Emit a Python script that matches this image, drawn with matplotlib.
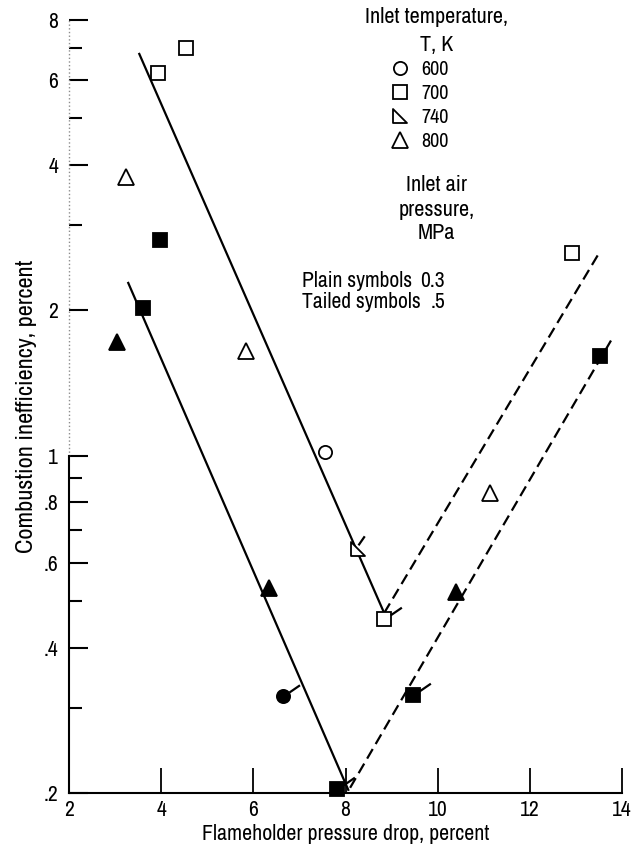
import numpy as np
import matplotlib
matplotlib.use("Agg")
import matplotlib.pyplot as plt
from matplotlib.path import Path
from matplotlib.lines import Line2D

plt.rcParams['font.family'] = ['Archivo Narrow', 'Liberation Sans Narrow', 'DejaVu Sans']

# flameholder pressure drop (percent) vs combustion inefficiency (percent)
# open symbols
sq_open_x = [3.93, 4.54, 12.93]
sq_open_y = [6.2, 7.0, 2.63]
sq_open_tail_x = [8.84]
sq_open_tail_y = [0.458]
tri_open_x = [3.23, 5.84, 11.14]
tri_open_y = [3.78, 1.65, 0.836]
circ_open_x = [7.56]
circ_open_y = [1.016]
rt_open_tail_x = [8.27]
rt_open_tail_y = [0.641]

# solid symbols
sq_fill_x = [3.97, 3.59, 13.53]
sq_fill_y = [2.80, 2.02, 1.61]
sq_fill_tail_x = [9.47, 7.82]
sq_fill_tail_y = [0.319, 0.204]
tri_fill_x = [3.04, 6.34, 10.39]
tri_fill_y = [1.72, 0.532, 0.523]
circ_fill_tail_x = [6.64]
circ_fill_tail_y = [0.318]

# faired curves
upper_solid_x = [3.52, 8.84]
upper_solid_y = [6.80, 0.472]
upper_dash_x = [8.84, 13.53]
upper_dash_y = [0.472, 2.65]
lower_solid_x = [3.28, 8.06]
lower_solid_y = [2.28, 0.203]
lower_dash_x = [8.10, 13.81]
lower_dash_y = [0.205, 1.76]

legend_temps = ['600', '700', '740', '800']

ytick_vals = [0.2, 0.4, 0.6, 0.8, 1, 2, 4, 6, 8]
ytick_labels = ['.2', '.4', '.6', '.8', '1', '2', '4', '6', '8']
yminor_vals = [0.3, 0.5, 0.7, 0.9, 3, 5, 7]
xtick_vals = [2, 4, 6, 8, 10, 12, 14]

# right-triangle symbol (740 K)
rt_path = Path([(-0.5, 0.5), (-0.5, -0.5), (0.5, -0.5), (-0.5, 0.5)],
               [Path.MOVETO, Path.LINETO, Path.LINETO, Path.CLOSEPOLY])


def tail_marker(p0, p1):
    # short stroke off the symbol, returned with the size factor it needs
    verts = [p0, p1]
    scale = 2 * max(abs(v) for p in verts for v in p)
    return Path(verts, [Path.MOVETO, Path.LINETO]), scale


tail_path, tail_scale = tail_marker((0.45, 0.3), (1.25, 0.85))
rt_tail_path, rt_tail_scale = tail_marker((0.0, 0.3), (0.45, 0.95))

fig = plt.figure(figsize=(6.36, 8.49), dpi=100)
ax = fig.add_axes([0.109, 0.066, 0.8685, 0.9106])
ax.set_yscale('log')
ax.set_xlim(2, 14)
ax.set_ylim(0.2, 8)

lw = 1.6
ax.plot(upper_solid_x, upper_solid_y, '-', color='black', lw=lw)
ax.plot(upper_dash_x, upper_dash_y, color='black', lw=lw, ls=(0, (5, 2.6)))
ax.plot(lower_solid_x, lower_solid_y, '-', color='black', lw=lw)
ax.plot(lower_dash_x, lower_dash_y, color='black', lw=lw, ls=(0, (5, 2.6)))

ms_sq = 10
ms_tri = 11
ms_circ = 9.5
mew = 1.3


def pts(x, y, marker, ms, filled):
    ax.plot(x, y, ls='none', marker=marker, ms=ms,
            mfc='black' if filled else 'white', mec='black', mew=mew,
            clip_on=False, zorder=3)


def tails(x, y, ms, path=tail_path, scale=tail_scale):
    ax.plot(x, y, ls='none', marker=path, ms=ms * scale,
            mfc='none', mec='black', mew=1.6, clip_on=False, zorder=3)


pts(sq_open_x, sq_open_y, 's', ms_sq, False)
pts(sq_open_tail_x, sq_open_tail_y, 's', ms_sq, False)
tails(sq_open_tail_x, sq_open_tail_y, ms_sq)
pts(tri_open_x, tri_open_y, '^', ms_tri, False)
pts(circ_open_x, circ_open_y, 'o', ms_circ, False)
pts(rt_open_tail_x, rt_open_tail_y, rt_path, ms_sq, False)
tails(rt_open_tail_x, rt_open_tail_y, ms_sq, rt_tail_path, rt_tail_scale)

pts(sq_fill_x, sq_fill_y, 's', ms_sq, True)
pts(sq_fill_tail_x, sq_fill_tail_y, 's', ms_sq, True)
tails(sq_fill_tail_x, sq_fill_tail_y, ms_sq)
pts(tri_fill_x, tri_fill_y, '^', ms_tri, True)
pts(circ_fill_tail_x, circ_fill_tail_y, 'o', ms_circ, True)
tails(circ_fill_tail_x, circ_fill_tail_y, ms_circ)

# axes: only left and bottom lines, upper part of the left one is faint
for s in ['top', 'right']:
    ax.spines[s].set_visible(False)
ax.spines['left'].set_bounds(0.2, 1)
ax.spines['left'].set_linewidth(1.5)
ax.spines['bottom'].set_linewidth(1.5)
ax.plot([2, 2], [1, 8], ls=':', color='0.55', lw=1.0, clip_on=False)

ax.set_yticks(ytick_vals)
ax.set_yticklabels(ytick_labels)
ax.set_yticks(yminor_vals, minor=True)
ax.yaxis.set_minor_formatter(plt.NullFormatter())
ax.set_xticks(xtick_vals)
ax.set_xticklabels([str(v) for v in xtick_vals])

ax.tick_params(axis='y', which='major', direction='in', length=14, width=1.5,
               pad=8, labelsize=15.5)
ax.tick_params(axis='y', which='minor', direction='in', length=9, width=1.5)
ax.tick_params(axis='x', which='major', direction='in', length=18, width=1.3,
               pad=5, labelsize=15.5)
ax.tick_params(axis='x', which='minor', bottom=False)

ax.set_xlabel('Flameholder pressure drop, percent', fontsize=15.8, labelpad=3)
ax.set_ylabel('Combustion inefficiency, percent', fontsize=17.5, labelpad=5)

# symbol key
fs = 16
fig.text(0.6866, 0.980, 'Inlet temperature,', ha='center', va='center', fontsize=fs)
fig.text(0.6866, 0.947, 'T, K', ha='center', va='center', fontsize=fs)
handles = [
    Line2D([], [], ls='none', marker='o', ms=ms_circ, mfc='white', mec='black', mew=mew),
    Line2D([], [], ls='none', marker='s', ms=ms_sq, mfc='white', mec='black', mew=mew),
    Line2D([], [], ls='none', marker=rt_path, ms=ms_sq, mfc='white', mec='black', mew=mew),
    Line2D([], [], ls='none', marker='^', ms=ms_tri, mfc='white', mec='black', mew=mew),
]
fig.legend(handles, legend_temps, loc='upper left', bbox_to_anchor=(0.613, 0.929),
           bbox_transform=fig.transFigure, frameon=False, fontsize=14.5,
           handlelength=1.0, handletextpad=0.55, labelspacing=0.24, borderpad=0,
           borderaxespad=0)

fig.text(0.6866, 0.782, 'Inlet air', ha='center', va='center', fontsize=fs)
fig.text(0.6866, 0.7527, 'pressure,', ha='center', va='center', fontsize=fs)
fig.text(0.6866, 0.7252, 'MPa', ha='center', va='center', fontsize=fs)
fig.text(0.4744, 0.669, 'Plain symbols', ha='left', va='center', fontsize=15.5)
fig.text(0.4744, 0.6446, 'Tailed symbols', ha='left', va='center', fontsize=15.5)
fig.text(0.700, 0.669, '0.3', ha='right', va='center', fontsize=15.5)
fig.text(0.700, 0.6446, '.5', ha='right', va='center', fontsize=15.5)

fig.savefig('out.png', dpi=100)
